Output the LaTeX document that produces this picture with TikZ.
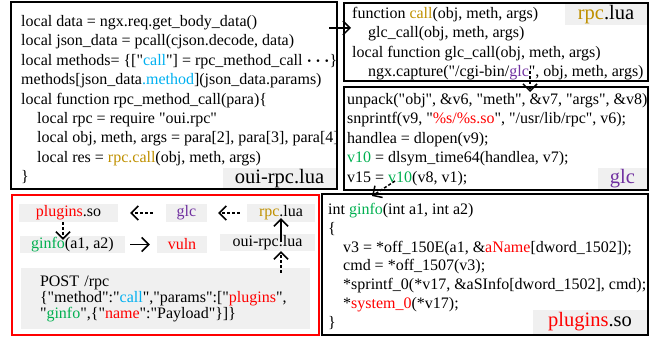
\documentclass[tikz,border=0pt]{standalone}
\usepackage{fontspec}
\setmainfont{Liberation Serif}[Ligatures = TeXOff]
\usetikzlibrary{arrows.meta}
\usetikzlibrary{calc}

\definecolor{callblue}{HTML}{00B0F0}
\definecolor{rpcgold}{HTML}{BF9000}
\definecolor{glcpurple}{HTML}{7030A0}
\definecolor{hotred}{HTML}{FF0000}
\definecolor{symgreen}{HTML}{00B050}
\definecolor{tagfill}{HTML}{F0F0F0}

\tikzset{
    codebox/.style = {draw, line width = 1.6pt},
    codetext/.style = {anchor = north west, inner sep = 0pt, align = left, font = \fontsize{16}{19.45}\selectfont},
    tag/.style = {fill = tagfill, inner sep = 0pt, font = \fontsize{20.5}{24}\selectfont},
    mini/.style = {fill = tagfill, inner sep = 0pt, font = \fontsize{16}{19}\selectfont},
    flow/.style = {-{Straight Barb[length = 7pt, width = 14pt]}, line width = 1.5pt},
    dflow/.style = {flow, dash pattern = on 3pt off 2pt},
}

\begin{document}
\begin{tikzpicture}[x = 1pt, y = -1pt] % request path tikzpic
        \useasboundingbox (0, 0) rectangle (657, 339);

        % Code boxes
        \node[tag, minimum width = 113pt, minimum height = 21pt] (ouitag) at (279.5, 178.5) {oui-rpc.lua};
        \node[tag, minimum width = 82pt, minimum height = 21pt] (rpctag) at (606, 14.5) {\textcolor{rpcgold}{rpc}.lua};
        \node[tag, minimum width = 49pt, minimum height = 21pt] (glctag) at (622.5, 178.5) {\textcolor{glcpurple}{glc}};
        \node[tag, minimum width = 114pt, minimum height = 24pt] (plugtag) at (590, 322) {\textcolor{hotred}{plugins}.so};
        \draw[codebox] (11, 2) rectangle (337, 189);
        \draw[codebox] (344, 3) rectangle (648, 81);
        \draw[codebox] (344, 87) rectangle (648, 190);
        \draw[codebox] (322, 194) rectangle (648, 335);
        \draw[codebox, hotred] (12, 195) rectangle (319, 335);

        \node[codetext] (luacode) at (21, 12.4) {\strut local data = ngx.req.get\_body\_data()\\
            local json\_data = pcall(cjson.decode, data)\\
            local methods= \{["\textcolor{callblue}{call}"] = rpc\_method\_call {\boldmath$\cdots$}\}\\
            methods[json\_data\textcolor{callblue}{.method}](json\_data.params)\\
            local function rpc\_method\_call(para)\{\\
            \hspace*{16pt}local rpc = require "oui.rpc"\\
            \hspace*{16pt}local obj, meth, args = para[2], para[3], para[4]\\
            \hspace*{16pt}local res = \textcolor{rpcgold}{rpc.call}(obj, meth, args)\\
            \}};

        \node[codetext] (rpccode) at (352, 4.4) {\strut function \textcolor{rpcgold}{call}(obj, meth, args)\\
            \hspace*{16pt}glc\_call(obj, meth, args)\\
            local function glc\_call(obj, meth, args)\\
            \hspace*{16pt}ngx.capture("/cgi-bin/\textcolor{glcpurple}{glc}", obj, meth, args)};

        \node[codetext] (glccode) at (347, 90.4) {\strut unpack("obj", \&v6, "meth", \&v7, "args", \&v8)\\
            snprintf(v9, "\textcolor{hotred}{\%s/\%s.so}", "/usr/lib/rpc", v6);\\
            handlea = dlopen(v9);\\
            \textcolor{symgreen}{v10} = dlsym\_time64(handlea, v7);\\
            v15 = \textcolor{symgreen}{v10}(v8, v1);};

        \node[codetext, font = \fontsize{16}{18.9}\selectfont] (plugcode) at (328, 200.8) {\strut int \textcolor{symgreen}{ginfo}(int a1, int a2)\\
            \{\\
            \hspace*{15pt}v3 = *off\_150E(a1, \&\textcolor{hotred}{aName}[dword\_1502]);\\
            \hspace*{15pt}cmd = *off\_1507(v3);\\
            \hspace*{15pt}*sprintf\_0(*v17, \&aSInfo[dword\_1502], cmd);\\
            \hspace*{15pt}*\textcolor{hotred}{system\_0}(*v17);\\
            \}};

        % Hand-offs between boxes
        \coordinate (calltail) at (329, 28);
        \coordinate (callhead) at (351, 28);
        \coordinate (glctail) at (530, 71);
        \coordinate (glchead) at (530, 92);
        \coordinate (v10tail) at (395, 181);
        \coordinate (v10head) at (372, 196);
        \draw[flow] (calltail) -- (callhead);
        \draw[dflow] (glctail) -- (glchead);
        \draw[dflow] (v10tail) -- (v10head);

        % Summary inside the red box
        \node[mini, minimum width = 99pt, minimum height = 18pt] (plugS) at (68.5, 213) {\textcolor{hotred}{plugins}.so};
        \node[mini, minimum width = 41pt, minimum height = 18pt] (glcS) at (186.5, 213) {\textcolor{glcpurple}{glc}};
        \node[mini, minimum width = 68pt, minimum height = 18pt] (rpcS) at (281, 213) {\textcolor{rpcgold}{rpc}.lua};
        \node[mini, minimum width = 105pt, minimum height = 17pt] (ginfoS) at (72.5, 244.5) {\textcolor{symgreen}{ginfo}(a1, a2)};
        \node[mini, minimum width = 50pt, minimum height = 17pt] (vulnS) at (182, 244.5) {\textcolor{hotred}{vuln}};
        \node[mini, minimum width = 95pt, minimum height = 17pt] (ouiS) at (267.5, 242.5) {oui-rpc.lua};
        \node[mini, minimum width = 289pt, minimum height = 61pt, text width = 251pt, inner xsep = 19pt, align = left,
            font = \fontsize{16}{16}\selectfont] (post) at (165.5, 298.5) {POST /rpc\\
            \{"method":"\textcolor{callblue}{call}","params":["\textcolor{hotred}{plugins}",\\
            "\textcolor{symgreen}{ginfo}",\{"\textcolor{hotred}{name}":"Payload"\}]\}};

        \draw[dflow] ([xshift = -7pt]rpcS.west) -- ([xshift = 11pt]glcS.east);
        \draw[dflow] ([xshift = -13pt]glcS.west) -- ([xshift = 12pt]plugS.east);
        \draw[dflow] ($(plugS.south) + (-5.5, 0)$) -- ($(ginfoS.north -| plugS.south) + (-5.5, 4)$);
        \draw[flow] ([xshift = 5pt]ginfoS.east) -- ([xshift = -7pt]vulnS.west);
        \draw[flow] (rpcS.south |- ouiS.center) -- ([yshift = 4pt]rpcS.south);
        \draw[dflow] ($(post.north -| rpcS.south) + (0, 5)$) -- (ouiS.south -| rpcS.south);
    \end{tikzpicture}
\end{document}
